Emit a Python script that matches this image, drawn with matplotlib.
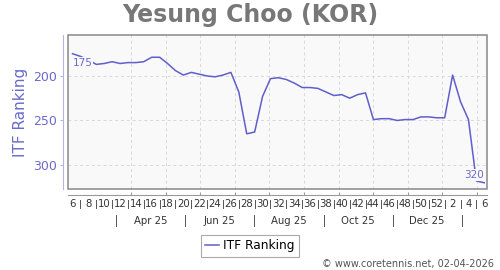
#!/usr/bin/env python3
"""Weekly ITF ranking history, coretennis style."""
import matplotlib
matplotlib.use("Agg")
import matplotlib.pyplot as plt
import pandas as pd
from matplotlib.patches import Rectangle

PLAYER = "Yesung Choo (KOR)"
SERIES = "ITF Ranking"
RANKS = [175, 178, 182, 187, 186, 184, 186, 185, 185, 184,
         179, 179, 186, 194, 199, 196, 198, 200, 201, 199,
         196, 218, 265, 263, 223, 203, 202, 204, 208, 213,
         213, 214, 218, 222, 221, 225, 221, 219, 249, 248,
         248, 250, 249, 249, 246, 246, 247, 247, 199, 229,
         249, 318, 320]
WEEK_LABELS = ["6", "8", "10", "12", "14", "16", "18", "20", "22", "24",
               "26", "28", "30", "32", "34", "36", "38", "40", "42", "44",
               "46", "48", "50", "52", "2", "4", "6"]
MONTH_LABELS = ["Apr 25", "Jun 25", "Aug 25", "Oct 25", "Dec 25"]
Y_TICKS = [200, 250, 300]
FOOTER = "\u00a9 www.coretennis.net, 02-04-2026"

LINE = "#5f5fcc"
TEXT_BLUE = "#6a6acc"


def main():
    dates = pd.date_range("2025-01-22", periods=len(RANKS), freq="7D")
    grid_days = pd.date_range("2025-02-15", "2026-01-15", freq="MS") + pd.Timedelta(days=14)
    month_pos = pd.date_range("2025-04-01", periods=len(MONTH_LABELS), freq="2MS")
    month_sep = pd.date_range("2025-03-01", "2026-01-01", freq="2MS")

    fig = plt.figure(figsize=(5, 2.7), dpi=100)
    ax = fig.add_axes([68 / 500, 1 - 189 / 270, 419 / 500, 154 / 270])
    ax.set_facecolor("#f9f9f9")

    ax.plot(dates, RANKS, color=LINE, lw=1.1, label=SERIES, zorder=3)
    ax.set_xlim(dates[0] - pd.Timedelta(days=4), dates[-1] + pd.Timedelta(days=2.4))
    ax.set_ylim(327, 154)

    # grid
    for d in grid_days:
        ax.axvline(d, color="#d8d8d8", lw=0.7, ls=(0, (3, 3)), zorder=1)
    ax.set_yticks(Y_TICKS)
    ax.yaxis.grid(True, color="#d8d8d8", lw=0.7, ls=(0, (3, 3)))

    # axes look
    for s in ("top", "right"):
        ax.spines[s].set_visible(False)
    ax.spines["left"].set_position(("outward", 3.6))
    ax.spines["left"].set_color("#b4b4e4")
    ax.spines["bottom"].set_position(("outward", 4.3))
    ax.spines["bottom"].set_color("#999999")
    ax.add_patch(Rectangle((0, 0), 1, 1, transform=ax.transAxes, fill=False,
                           ec="#888888", lw=1.1, clip_on=False, zorder=5))
    ax.tick_params(axis="y", colors="#b4b4e4", labelcolor=TEXT_BLUE,
                   length=2.5, labelsize=9, pad=2)
    ax.set_xticks(grid_days)
    ax.set_xticklabels([])
    ax.tick_params(axis="x", direction="in", length=2, color="#999999")

    # week labels with separators
    tr = ax.get_xaxis_transform()
    for k, lab in enumerate(WEEK_LABELS):
        ax.text(dates[2 * k], -0.099, lab, transform=tr, ha="center", va="center",
                fontsize=7.3, color="#333333")
    for k in range(1, len(dates), 2):
        ax.plot([dates[k], dates[k]], [-0.071, -0.125], transform=tr,
                color="#555555", lw=0.7, clip_on=False)
    for d, lab in zip(month_pos, MONTH_LABELS):
        ax.text(d, -0.206, lab, transform=tr, ha="center", va="center",
                fontsize=7.3, color="#333333")
    for d in month_sep:
        ax.plot([d, d], [-0.169, -0.240], transform=tr,
                color="#555555", lw=0.7, clip_on=False)

    # first / last value labels
    box = dict(boxstyle="square,pad=0.05", fc="#f9f9f9", ec="none")
    ax.annotate(str(RANKS[0]), (dates[0], RANKS[0]), xytext=(0, -6.5),
                textcoords="offset points", ha="left", va="center",
                fontsize=7.5, color=TEXT_BLUE, bbox=box, zorder=4)
    ax.annotate(str(RANKS[-1]), (dates[-1], RANKS[-1]), xytext=(0, 5.6),
                textcoords="offset points", ha="right", va="center",
                fontsize=7.5, color=TEXT_BLUE, bbox=box, zorder=4)

    fig.text(0.5, 0.945, PLAYER, ha="center", va="center", fontsize=17,
             fontweight="bold", color="#777777")
    fig.text(0.042, 0.585, SERIES, rotation=90, ha="center", va="center",
             fontsize=11, color=TEXT_BLUE)

    leg = fig.legend(loc="center", bbox_to_anchor=(0.5, 1 - 246 / 270),
                     fontsize=8.8, handlelength=1.1, handletextpad=0.4,
                     borderpad=0.35, fancybox=False, framealpha=1)
    leg.get_frame().set_edgecolor("#aaaaaa")
    leg.get_frame().set_linewidth(0.8)

    fig.text(0.988, 1 - 264 / 270, FOOTER, ha="right", va="center",
             fontsize=7, color="#555555")

    fig.savefig("out.png", dpi=100)
    plt.close(fig)


if __name__ == "__main__":
    main()
